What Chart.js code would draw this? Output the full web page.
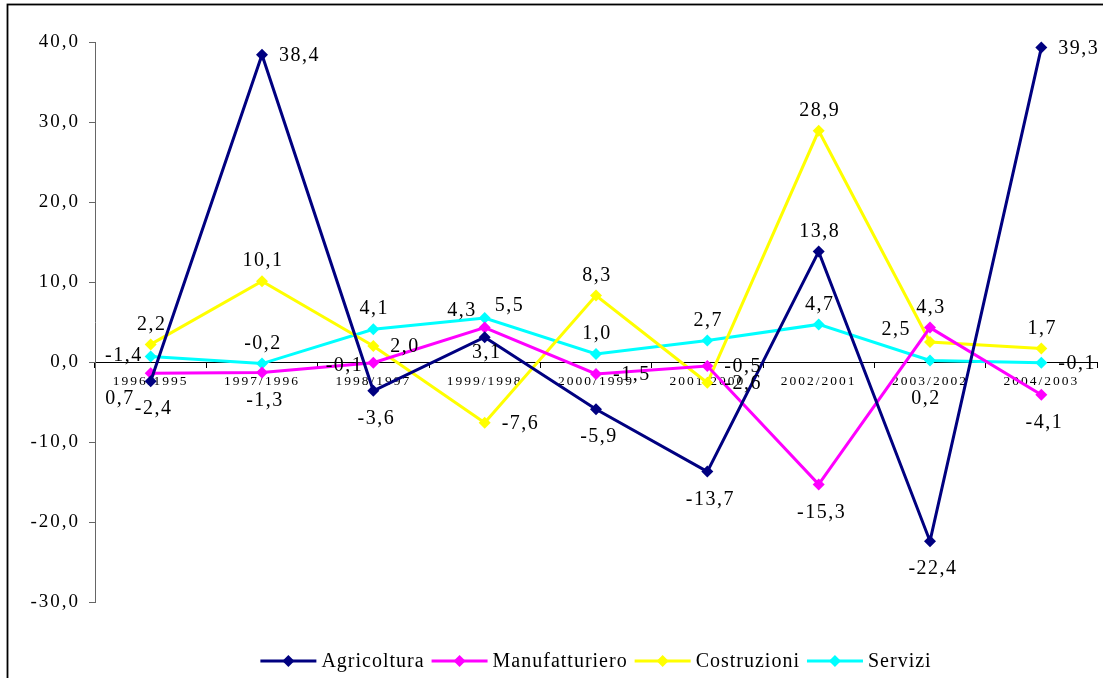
<!DOCTYPE html>
<html>
<head>
<meta charset="utf-8">
<script src="https://cdn.jsdelivr.net/npm/chart.js@4.4.1/dist/chart.umd.min.js"></script>
<style>
  html, body { margin: 0; padding: 0; background: #fff; }
  canvas { display: block; }
</style>
</head>
<body>
<canvas id="chart" width="1103" height="678"></canvas>
<script>
const categories = ['1996/1995', '1997/1996', '1998/1997', '1999/1998', '2000/1999', '2001/2000', '2002/2001', '2003/2002', '2004/2003'];
const agricoltura = [-2.4, 38.4, -3.6, 3.1, -5.9, -13.7, 13.8, -22.4, 39.3];
const manufatturiero = [-1.4, -1.3, -0.1, 4.3, -1.5, -0.5, -15.3, 4.3, -4.1];
const costruzioni = [2.2, 10.1, 2.0, -7.6, 8.3, -2.6, 28.9, 2.5, 1.7];
const servizi = [0.7, -0.2, 4.1, 5.5, 1.0, 2.7, 4.7, 0.2, -0.1];
const yTickValues = [-30, -20, -10, 0, 10, 20, 30, 40];

// where each value label sits round its point (t = above, b = below, r = right ...)
const agricolturaPos = ['b', 'r', 'b', 'b2', 'b', 'b', 't', 'b', 'r'];
const manufatturieroPos = ['tl', 'b', 'l', 'tl', 'r', 'r', 'b', 't', 'b'];
const costruzioniPos = ['t', 't', 'r', 'r', 't', 'r', 't', 'tl2', 't'];
const serviziPos = ['bl', 't', 't', 'tr', 't', 't', 't', 'b3', 'r'];

const spots = {
  t:   { align: 'center', dx: 1,   dy: -20 },
  b:   { align: 'center', dx: 3,   dy: 28 },
  b2:  { align: 'center', dx: 2,   dy: 16 },
  b3:  { align: 'center', dx: -4,  dy: 38 },
  r:   { align: 'left',   dx: 17,  dy: 1 },
  l:   { align: 'right',  dx: -10, dy: 3 },
  tl:  { align: 'right',  dx: -8,  dy: -17 },
  tl2: { align: 'right',  dx: -19, dy: -12 },
  tr:  { align: 'left',   dx: 10,  dy: -12 },
  bl:  { align: 'right',  dx: -16, dy: 42 }
};

const serif = '"Liberation Serif", "Times New Roman", serif';

function fmt(v) {
  return v.toFixed(1).replace('.', ',');
}

function makeSeries(label, data, color, pos) {
  return {
    label: label,
    data: data,
    labelPos: pos,
    borderColor: color,
    backgroundColor: color,
    borderWidth: 3,
    pointStyle: 'rectRot',
    pointRadius: 6,
    pointBorderWidth: 0,
    pointBackgroundColor: color,
    tension: 0,
    clip: false
  };
}

const decor = {
  id: 'decor',
  beforeDraw(chart) {
    const ctx = chart.ctx;
    ctx.save();
    ctx.fillStyle = '#fff';
    ctx.fillRect(0, 0, chart.width, chart.height);
    ctx.strokeStyle = '#000';
    ctx.lineWidth = 1.8;
    ctx.strokeRect(7.5, 4.5, 1300, 900);
    ctx.restore();
    // axis texts are drawn wide, like the original
    ctx.letterSpacing = '2px';
  },
  afterDatasetsDraw(chart) {
    const ctx = chart.ctx;
    ctx.save();
    ctx.letterSpacing = '1.5px';
    ctx.font = '20px ' + serif;
    ctx.fillStyle = '#000';
    ctx.textBaseline = 'middle';
    chart.data.datasets.forEach((ds, d) => {
      const meta = chart.getDatasetMeta(d);
      meta.data.forEach((pt, i) => {
        const s = spots[ds.labelPos[i]];
        ctx.textAlign = s.align;
        ctx.fillText(fmt(ds.data[i]), pt.x + s.dx, pt.y + s.dy);
      });
    });
    ctx.restore();
  },
  afterDraw(chart) {
    // legend: line with a diamond, then the name
    const ctx = chart.ctx;
    const area = chart.chartArea;
    ctx.save();
    ctx.letterSpacing = '1px';
    ctx.font = '20px ' + serif;
    ctx.textBaseline = 'middle';
    ctx.textAlign = 'left';
    const lineLen = 56;
    const items = chart.data.datasets.map(ds => ({
      ds: ds,
      w: lineLen + 5 + ctx.measureText(ds.label).width
    }));
    const gap = 7;
    let total = items.reduce((a, it) => a + it.w, 0) + gap * (items.length - 1);
    let x = (area.left + area.right) / 2 - total / 2;
    const y = 661;
    items.forEach(it => {
      ctx.strokeStyle = it.ds.borderColor;
      ctx.lineWidth = 3;
      ctx.beginPath();
      ctx.moveTo(x, y);
      ctx.lineTo(x + lineLen, y);
      ctx.stroke();
      ctx.fillStyle = it.ds.borderColor;
      ctx.beginPath();
      const cx = x + lineLen / 2;
      ctx.moveTo(cx, y - 6);
      ctx.lineTo(cx + 6, y);
      ctx.lineTo(cx, y + 6);
      ctx.lineTo(cx - 6, y);
      ctx.closePath();
      ctx.fill();
      ctx.fillStyle = '#000';
      ctx.fillText(it.ds.label, x + lineLen + 5, y + 1);
      x += it.w + gap;
    });
    ctx.restore();
  }
};

new Chart(document.getElementById('chart').getContext('2d'), {
  type: 'line',
  data: {
    labels: categories,
    datasets: [
      makeSeries('Agricoltura', agricoltura, '#000080', agricolturaPos),
      makeSeries('Manufatturiero', manufatturiero, '#FF00FF', manufatturieroPos),
      makeSeries('Costruzioni', costruzioni, '#FFFF00', costruzioniPos),
      makeSeries('Servizi', servizi, '#00FFFF', serviziPos)
    ]
  },
  options: {
    responsive: false,
    devicePixelRatio: 1,
    animation: false,
    layout: { padding: { left: 7, right: 4, top: 42, bottom: 76 } },
    plugins: {
      legend: { display: false },
      tooltip: { enabled: false }
    },
    scales: {
      x: {
        position: { y: 0 },
        offset: true,
        grid: { drawOnChartArea: false, offset: true, tickLength: 5, color: '#000' },
        border: { color: '#000', width: 1 },
        ticks: {
          maxRotation: 0,
          autoSkip: false,
          padding: 6,
          color: '#000',
          font: { family: serif, size: 13.5 }
        }
      },
      y: {
        min: -30,
        max: 40,
        afterBuildTicks(scale) {
          scale.ticks = yTickValues.map(v => ({ value: v }));
        },
        afterFit(scale) {
          scale.width = 88;
        },
        grid: { drawOnChartArea: false, tickLength: 6, color: '#666' },
        border: { color: '#666', width: 1 },
        ticks: {
          padding: 9,
          color: '#000',
          font: { family: serif, size: 19 },
          callback: v => fmt(v)
        }
      }
    }
  },
  plugins: [decor]
});
</script>
</body>
</html>
